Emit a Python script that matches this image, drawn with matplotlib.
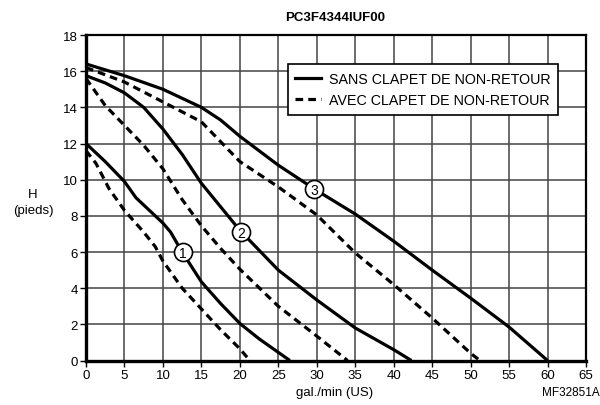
import matplotlib.pyplot as plt

plt.rcParams['font.family'] = ['Liberation Sans', 'DejaVu Sans']

# curves: flow (gal/min US) vs head (ft)
x1_sans = [0, 2.5, 5, 6.5, 8, 10, 11, 12.5, 15, 17.5, 20, 22.5, 26.5]
y1_sans = [12.0, 11.0, 9.9, 9.0, 8.4, 7.6, 7.1, 6.0, 4.35, 3.15, 2.05, 1.2, 0]
x1_avec = [0, 1.3, 3, 5, 7.5, 9, 10, 12.5, 15, 17.5, 20, 21.3]
y1_avec = [11.6, 10.9, 9.5, 8.3, 7.1, 6.3, 5.5, 4.0, 2.85, 1.7, 0.65, 0]

x2_sans = [0, 2.5, 5, 7.5, 10, 12.5, 15, 17.5, 20, 25, 30, 35, 40, 42.3]
y2_sans = [15.75, 15.35, 14.8, 14.0, 12.8, 11.4, 9.8, 8.5, 7.2, 5.0, 3.35, 1.8, 0.6, 0]
x2_avec = [0, 1, 2.5, 5, 7.5, 10, 12.5, 15, 17.5, 20, 25, 30, 34]
y2_avec = [15.6, 15.0, 14.1, 13.0, 11.9, 10.6, 8.9, 7.45, 6.2, 5.05, 3.0, 1.35, 0]

x3_sans = [0, 5, 10, 15, 17.5, 20, 25, 30, 35, 40, 45, 50, 55, 60]
y3_sans = [16.4, 15.75, 15.0, 14.0, 13.3, 12.4, 10.8, 9.4, 8.1, 6.6, 5.0, 3.45, 1.85, 0]
x3_avec = [0, 5, 10, 15, 17.5, 20, 25, 30, 35, 40, 45, 50, 51.2]
y3_avec = [16.2, 15.4, 14.3, 13.2, 12.1, 11.0, 9.6, 8.05, 5.95, 4.2, 2.35, 0.4, 0]

# curve number labels
lab_x = [12.6, 20.2, 29.7]
lab_y = [6.0, 7.1, 9.5]
lab_txt = ['1', '2', '3']

fig = plt.figure(figsize=(6, 4.06), dpi=100)
ax = fig.add_axes([0.1433, 0.1096, 0.8334, 0.8017])

lw = 2.3
for xs, ys in [(x1_sans, y1_sans), (x2_sans, y2_sans), (x3_sans, y3_sans)]:
    ax.plot(xs, ys, color='black', lw=lw, solid_capstyle='butt', solid_joinstyle='round', zorder=3)
for xs, ys in [(x1_avec, y1_avec), (x2_avec, y2_avec), (x3_avec, y3_avec)]:
    ax.plot(xs, ys, color='black', lw=lw, dashes=(2.4, 1.6), zorder=3)

for xx, yy, t in zip(lab_x, lab_y, lab_txt):
    ax.plot(xx, yy, 'o', ms=13, mfc='white', mec='black', mew=1.2, zorder=4)
    ax.text(xx, yy - 0.05, t, ha='center', va='center', fontsize=10, zorder=5)

ax.set_xlim(0, 65)
ax.set_ylim(0, 18)
ax.set_xticks(range(0, 66, 5))
ax.set_yticks(range(0, 19, 2))
ax.grid(True, color='#444444', lw=1.1)
ax.set_axisbelow(True)
ax.tick_params(direction='out', length=4, width=1, labelsize=9.5, colors='black', pad=2)
for s in ['left', 'bottom']:
    ax.spines[s].set_linewidth(2.4)
for s in ['top', 'right']:
    ax.spines[s].set_linewidth(1.6)

# legend
h1, = ax.plot([], [], color='black', lw=lw)
h2, = ax.plot([], [], color='black', lw=lw, dashes=(2.4, 1.6))
leg = ax.legend([h1, h2], ['SANS CLAPET DE NON-RETOUR', 'AVEC CLAPET DE NON-RETOUR'],
                loc='upper right', bbox_to_anchor=(0.944, 0.912), borderaxespad=0,
                fontsize=10.3, frameon=True, fancybox=False, framealpha=1,
                edgecolor='black', borderpad=0.55, handlelength=1.75,
                handletextpad=0.56, labelspacing=0.55)
leg.get_frame().set_linewidth(1.2)

fig.text(0.558, 0.956, 'PC3F4344IUF00', ha='center', va='center', fontsize=9.5, fontweight='bold')
fig.text(0.055, 0.500, 'H\n(pieds)', ha='center', va='center', fontsize=9.5, linespacing=1.45)
fig.text(0.558, 0.032, 'gal./min (US)', ha='center', va='center', fontsize=9.5)
fig.text(0.999, 0.032, 'MF32851A', ha='right', va='center', fontsize=8.5)

fig.savefig('out.png', dpi=100)
